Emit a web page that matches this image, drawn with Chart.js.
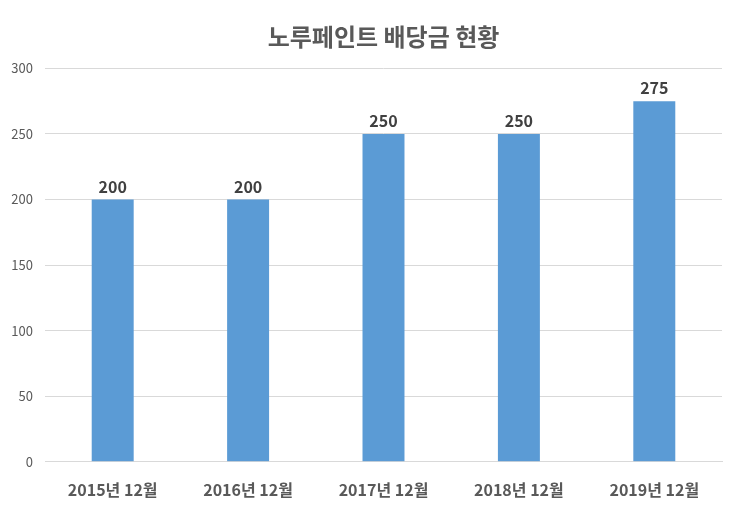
<!DOCTYPE html>
<html>
<head>
<meta charset="utf-8">
<script src="https://cdn.jsdelivr.net/npm/chart.js@4"></script>
<style>
  html, body { margin: 0; padding: 0; background: #fff; }
  #wrap { width: 740px; height: 515px; }
</style>
</head>
<body>
<div id="wrap"><canvas id="chart"></canvas></div>
<script>
const titleText = '노루페인트 배당금 현황';
const categories = ['2015년 12월', '2016년 12월', '2017년 12월', '2018년 12월', '2019년 12월'];
const dividends = [200, 200, 250, 250, 275];
const yTicks = [0, 50, 100, 150, 200, 250, 300];

const FONT = "'Noto Sans CJK KR', 'Noto Sans', sans-serif";

// draw the value above each bar
const valueLabels = {
  id: 'valueLabels',
  afterDatasetsDraw(chart) {
    const ctx = chart.ctx;
    const meta = chart.getDatasetMeta(0);
    ctx.save();
    ctx.font = `bold 16px ${FONT}`;
    ctx.fillStyle = '#404040';
    ctx.textAlign = 'center';
    ctx.textBaseline = 'bottom';
    meta.data.forEach((bar, i) => {
      ctx.fillText(String(dividends[i]), bar.x, bar.y - 5);
    });
    ctx.restore();
  }
};

new Chart(document.getElementById('chart'), {
  type: 'bar',
  data: {
    labels: categories,
    datasets: [{
      data: dividends,
      backgroundColor: '#5b9bd5',
      categoryPercentage: 1,
      barPercentage: 0.31,
    }],
  },
  options: {
    responsive: true,
    maintainAspectRatio: false,
    animation: false,
    layout: { padding: { left: 0, right: 18, top: 0, bottom: 4 } },
    plugins: {
      legend: { display: false },
      tooltip: { enabled: false },
      title: {
        display: true,
        fullSize: false,
        text: titleText,
        color: '#595959',
        font: { family: FONT, size: 24, weight: 'bold' },
        padding: { top: 22, bottom: 17.6 },
      },
    },
    scales: {
      x: {
        grid: { display: false },
        border: { color: '#d9d9d9' },
        ticks: {
          color: '#595959',
          font: { family: FONT, size: 16, weight: 'bold' },
          padding: 11,
        },
      },
      y: {
        min: 0,
        max: 300,
        afterBuildTicks(axis) { axis.ticks = yTicks.map(v => ({ value: v })); },
        afterFit(axis) { axis.width = 45; },
        grid: { color: '#d9d9d9', drawTicks: false },
        border: { display: false },
        ticks: {
          color: '#595959',
          font: { family: FONT, size: 13 },
          padding: 12,
        },
      },
    },
  },
  plugins: [valueLabels],
});
</script>
</body>
</html>
